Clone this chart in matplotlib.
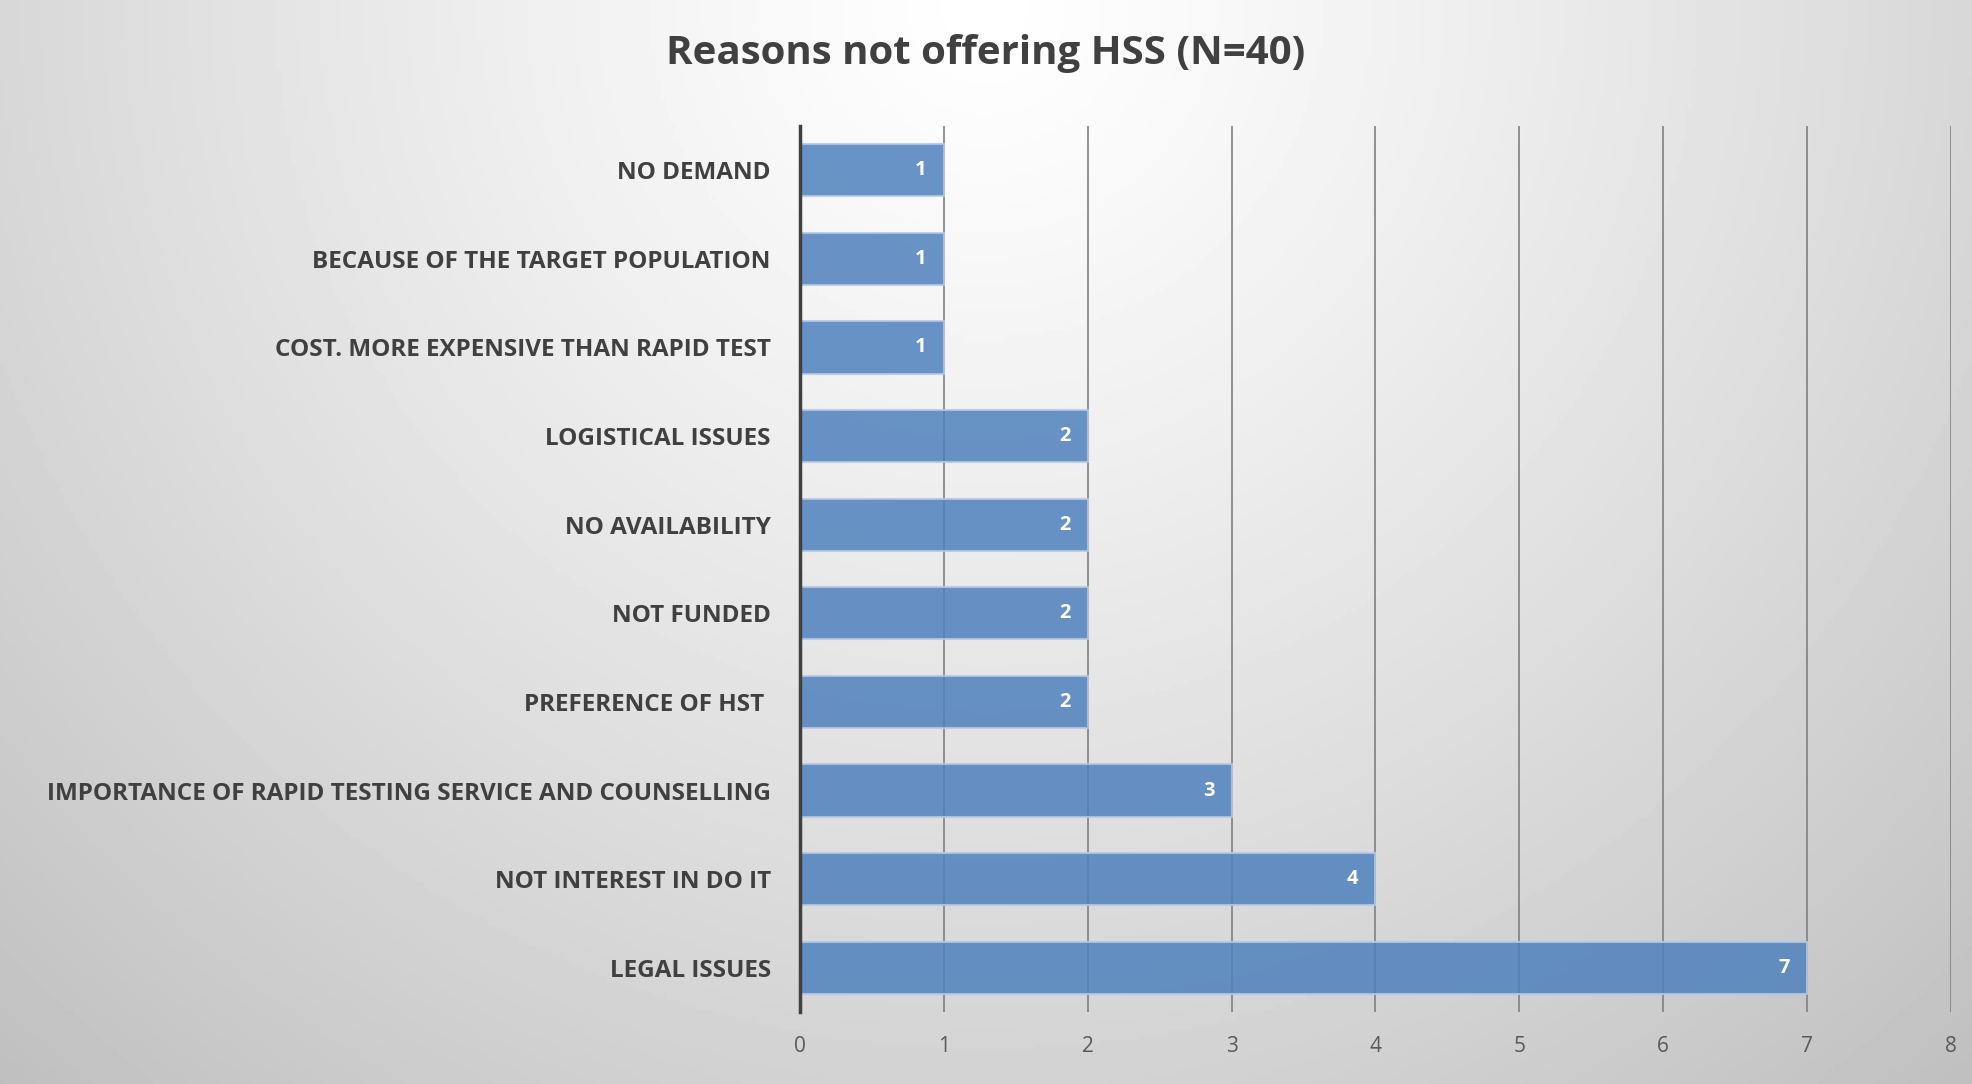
import numpy as np
import matplotlib
matplotlib.use('Agg')
import matplotlib.pyplot as plt

categories = [
    'NO DEMAND',
    'BECAUSE OF THE TARGET POPULATION',
    'COST. MORE EXPENSIVE THAN RAPID TEST',
    'LOGISTICAL ISSUES',
    'NO AVAILABILITY',
    'NOT FUNDED',
    'PREFERENCE OF HST ',
    'IMPORTANCE OF RAPID TESTING SERVICE AND COUNSELLING',
    'NOT INTEREST IN DO IT',
    'LEGAL ISSUES',
]
counts = [1, 1, 1, 2, 2, 2, 2, 3, 4, 7]
x_ticks = [0, 1, 2, 3, 4, 5, 6, 7, 8]
title = 'Reasons not offering HSS (N=40)'

plt.rcParams['font.family'] = ['Open Sans', 'DejaVu Sans']
text_color = '#404040'

fig = plt.figure(figsize=(19.72, 10.84), dpi=100)

# radial grey background, light at the top centre
bg = fig.add_axes([0, 0, 1, 1], zorder=-10)
xx, yy = np.meshgrid(np.linspace(0, 1, 400), np.linspace(0, 1, 220))
d = np.sqrt(((xx - 0.5) * 1.82) ** 2 + yy ** 2) / 1.35
shade = np.clip(1 - 0.25 * d ** 1.2, 0, 1)
bg.imshow(shade, cmap='gray', vmin=0, vmax=1, aspect='auto',
          extent=[0, 1, 1, 0])
bg.set_xlim(0, 1)
bg.set_ylim(1, 0)
bg.axis('off')

ax = fig.add_axes([0.4057, 0.0664, 0.5836, 0.8174])
ax.patch.set_alpha(0)

pos = np.arange(len(categories))
bars = ax.barh(pos, counts, height=0.59, color='#4f81bd', alpha=0.85,
               edgecolor='#b4c8e4', linewidth=1.5, zorder=3)

for b, v in zip(bars, counts):
    ax.text(b.get_width() - 0.12, b.get_y() + b.get_height() / 2, str(v),
            ha='right', va='center', color='white', fontsize=14.5,
            fontweight='bold', zorder=4)

ax.set_ylim(len(categories) - 0.5, -0.5)
ax.set_xlim(0, 8)
ax.set_yticks(pos)
ax.set_yticklabels(categories, fontsize=17.5, fontweight='bold',
                   color=text_color)
ax.set_xticks(x_ticks)
ax.set_xticklabels([str(t) for t in x_ticks], fontsize=15, color='#595959')
ax.tick_params(axis='y', length=0, pad=21)
ax.tick_params(axis='x', length=0, pad=17)

ax.grid(axis='x', color='#808080', linewidth=1.2, zorder=1)
ax.set_axisbelow(True)
for s in ['top', 'right', 'bottom']:
    ax.spines[s].set_visible(False)
ax.spines['left'].set_color(text_color)
ax.spines['left'].set_linewidth(2.5)
ax.spines['left'].set_zorder(5)

fig.text(0.5, 0.951, title, ha='center', va='center', fontsize=29,
         fontweight='bold', color=text_color)

fig.savefig('out.png', dpi=100)
